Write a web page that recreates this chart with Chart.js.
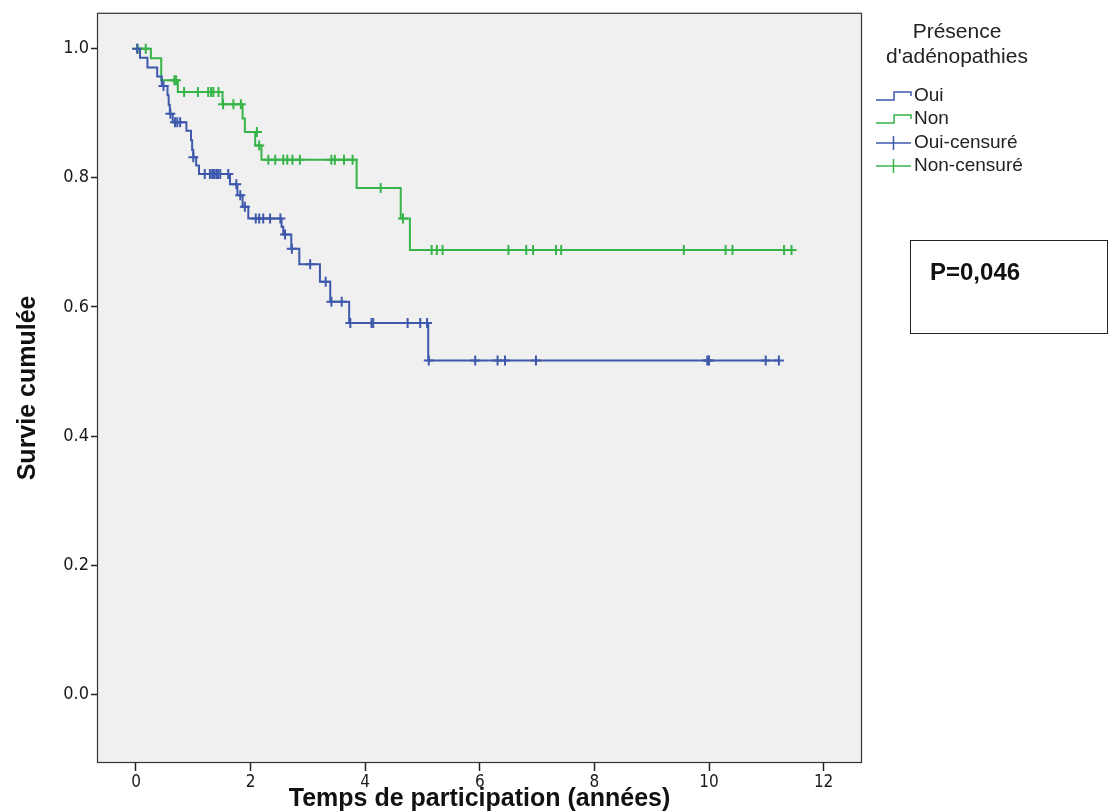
<!DOCTYPE html>
<html>
<head>
<meta charset="utf-8">
<script src="https://cdn.jsdelivr.net/npm/chart.js@4.4.1/dist/chart.umd.min.js"></script>
<style>
  body { margin: 0; background: #fff; }
  #wrap { position: relative; width: 1112px; height: 812px; }
  #kmChart { position: absolute; left: 0; top: 0; }
  .legend { position: absolute; left: 866px; top: 18px; width: 190px; font-family: 'Liberation Sans', Arial, sans-serif; color: #222; }
  .legend .title { text-align: center; font-size: 21px; line-height: 25px; margin-left: -8px; }
  .legend .item { position: absolute; left: 10px; height: 23px; font-size: 19px; line-height: 23px; white-space: nowrap; }
  .legend .item svg { vertical-align: middle; margin-right: 2px; }
  .pbox { position: absolute; left: 910px; top: 240px; width: 198px; height: 94px; border: 1px solid #222; box-sizing: border-box;
          font-family: 'Liberation Sans', Arial, sans-serif; font-weight: bold; font-size: 24px; color: #111; }
  .pbox span { position: absolute; left: 19px; top: 17px; }
</style>
</head>
<body>
<div id="wrap">
  <canvas id="kmChart" width="1112" height="812"></canvas>
  <div class="legend">
    <div class="title">Présence<br>d'adénopathies</div>
  </div>
  <div class="pbox"><span>P=0,046</span></div>
</div>
<script>
// Oui (avec adénopathies): event times and survival after each step
const ouiTimes = [0, 0.07, 0.20, 0.37, 0.45, 0.55, 0.57, 0.59, 0.64, 0.88, 0.96, 0.98, 1.00, 1.05, 1.10,
                  1.64, 1.77, 1.86, 1.96, 2.54, 2.57, 2.71, 2.85, 3.21, 3.39, 3.72, 5.10, 11.22];
const ouiSurv  = [1.0, 0.986, 0.971, 0.957, 0.942, 0.928, 0.913, 0.899, 0.886, 0.873, 0.858, 0.843, 0.832, 0.819, 0.806,
                  0.790, 0.773, 0.755, 0.737, 0.724, 0.712, 0.690, 0.666, 0.639, 0.608, 0.575, 0.517, 0.517];

// Oui censored observations
const ouiCensT = [0.02, 0.48, 0.60, 0.68, 0.72, 0.77, 1.00, 1.20, 1.29, 1.33, 1.36, 1.40, 1.43, 1.47, 1.61,
                  1.75, 1.82, 1.90, 2.09, 2.15, 2.22, 2.34, 2.52, 2.60, 2.72, 3.04, 3.31, 3.41, 3.59,
                  3.74, 4.11, 4.14, 4.74, 4.96, 5.08, 5.11, 5.92, 6.31, 6.44, 6.98, 9.97, 10.00, 10.99, 11.22];
const ouiCensS = [1.0, 0.942, 0.899, 0.886, 0.886, 0.886, 0.832, 0.806, 0.806, 0.806, 0.806, 0.806, 0.806, 0.806, 0.806,
                  0.790, 0.773, 0.755, 0.737, 0.737, 0.737, 0.737, 0.737, 0.712, 0.690, 0.666, 0.639, 0.608, 0.608,
                  0.575, 0.575, 0.575, 0.575, 0.575, 0.575, 0.517, 0.517, 0.517, 0.517, 0.517, 0.517, 0.517, 0.517, 0.517];

// Non (sans adénopathies)
const nonTimes = [0, 0.26, 0.44, 0.73, 1.51, 1.86, 1.90, 2.08, 2.19, 3.85, 4.62, 4.78, 11.44];
const nonSurv  = [1.0, 0.985, 0.951, 0.933, 0.914, 0.892, 0.871, 0.850, 0.828, 0.784, 0.737, 0.688, 0.688];

const nonCensT = [0.03, 0.17, 0.67, 0.70, 0.84, 1.08, 1.26, 1.31, 1.35, 1.44, 1.52, 1.70, 1.83, 2.11, 2.15,
                  2.31, 2.43, 2.57, 2.64, 2.73, 2.86, 3.41, 3.47, 3.63, 3.78, 4.27, 4.66,
                  5.16, 5.25, 5.35, 6.50, 6.81, 6.93, 7.33, 7.42, 9.56, 10.29, 10.41, 11.31, 11.44];
const nonCensS = [1.0, 1.0, 0.951, 0.951, 0.933, 0.933, 0.933, 0.933, 0.933, 0.933, 0.914, 0.914, 0.914, 0.871, 0.850,
                  0.828, 0.828, 0.828, 0.828, 0.828, 0.828, 0.828, 0.828, 0.828, 0.828, 0.784, 0.737,
                  0.688, 0.688, 0.688, 0.688, 0.688, 0.688, 0.688, 0.688, 0.688, 0.688, 0.688, 0.688, 0.688];

const xTicks = [0, 2, 4, 6, 8, 10, 12];
const yTicks = [0, 0.2, 0.4, 0.6, 0.8, 1.0];

const legendLabels = ['Oui', 'Non', 'Oui-censuré', 'Non-censuré'];

const BLUE = '#3e58ac';
const GREEN = '#36b448';

const toPoints = (xs, ys) => xs.map((x, i) => ({ x: x, y: ys[i] }));

// grey plot background + frame
const plotFrame = {
    id: 'plotFrame',
    beforeDatasetsDraw(chart) {
        const { ctx, chartArea: a } = chart;
        ctx.save();
        ctx.fillStyle = '#f0f0f0';
        ctx.fillRect(a.left, a.top, a.right - a.left, a.bottom - a.top);
        ctx.restore();
    },
    afterDraw(chart) {
        const { ctx, chartArea: a } = chart;
        ctx.save();
        ctx.strokeStyle = '#333';
        ctx.lineWidth = 1.2;
        ctx.strokeRect(a.left + 0.5, a.top + 0.5, a.right - a.left - 1, a.bottom - a.top - 1);
        ctx.restore();
    }
};

const narrow = "'Liberation Sans Narrow', 'DejaVu Sans Condensed', 'Liberation Sans', sans-serif";
const sans = "'Liberation Sans', Arial, sans-serif";

const ctx = document.getElementById('kmChart').getContext('2d');
const chart = new Chart(ctx, {
    type: 'scatter',
    data: {
        datasets: [
            {
                label: legendLabels[0],
                data: toPoints(ouiTimes, ouiSurv),
                showLine: true,
                stepped: 'before',
                borderColor: BLUE,
                borderWidth: 2,
                pointRadius: 0
            },
            {
                label: legendLabels[1],
                data: toPoints(nonTimes, nonSurv),
                showLine: true,
                stepped: 'before',
                borderColor: GREEN,
                borderWidth: 2,
                pointRadius: 0
            },
            {
                label: legendLabels[2],
                data: toPoints(ouiCensT, ouiCensS),
                showLine: false,
                pointStyle: 'cross',
                pointRadius: 5,
                borderColor: BLUE,
                borderWidth: 2
            },
            {
                label: legendLabels[3],
                data: toPoints(nonCensT, nonCensS),
                showLine: false,
                pointStyle: 'cross',
                pointRadius: 5,
                borderColor: GREEN,
                borderWidth: 2
            }
        ]
    },
    options: {
        responsive: false,
        animation: false,
        layout: { padding: { left: 0, right: 250, top: 10, bottom: 0 } },
        plugins: { legend: { display: false }, tooltip: { enabled: false } },
        scales: {
            x: {
                type: 'linear',
                min: -0.6806,
                max: 12.67,
                afterBuildTicks: (scale) => { scale.ticks = xTicks.map(v => ({ value: v })); },
                afterFit: (scale) => { scale.height = 49; },
                grid: { drawOnChartArea: false, drawTicks: true, tickLength: 8, color: '#222', tickWidth: 1.5 },
                border: { display: false },
                ticks: { color: '#1a1a1a', padding: 1, font: { family: narrow, size: 17 }, maxRotation: 0 },
                title: {
                    display: true,
                    text: 'Temps de participation (années)',
                    color: '#111',
                    font: { family: sans, size: 25, weight: 'bold', lineHeight: 1 },
                    padding: { top: 0, bottom: 0 }
                }
            },
            y: {
                type: 'linear',
                min: -0.10648,
                max: 1.05556,
                afterBuildTicks: (scale) => { scale.ticks = yTicks.map(v => ({ value: v })); },
                afterFit: (scale) => { scale.width = 97; },
                grid: { drawOnChartArea: false, drawTicks: true, tickLength: 6, color: '#222', tickWidth: 1.5 },
                border: { display: false },
                ticks: {
                    color: '#1a1a1a', padding: 2, font: { family: narrow, size: 18 },
                    callback: (v) => v.toFixed(1)
                },
                title: {
                    display: true,
                    text: 'Survie cumulée',
                    color: '#111',
                    font: { family: sans, size: 25, weight: 'bold', lineHeight: 1 },
                    padding: { top: 16, bottom: 0 }
                }
            }
        }
    },
    plugins: [plotFrame]
});

// legend built as html next to the chart (SPSS style icons)
const legendEl = document.querySelector('.legend');
const legendColors = [BLUE, GREEN, BLUE, GREEN];
const legendTops = [65, 88, 112, 135];
legendLabels.forEach((lab, i) => {
    const item = document.createElement('div');
    item.className = 'item';
    item.style.top = legendTops[i] + 'px';
    const icon = i < 2
        ? '<polyline points="0,11 18,11 18,3 35,3 35,7" fill="none" stroke="' + legendColors[i] + '" stroke-width="1.5"/>'
        : '<line x1="0" y1="7" x2="35" y2="7" stroke="' + legendColors[i] + '" stroke-width="1.5"/>' +
          '<line x1="17.5" y1="0" x2="17.5" y2="14" stroke="' + legendColors[i] + '" stroke-width="1.5"/>';
    item.innerHTML = '<svg width="36" height="14">' + icon + '</svg>' + lab;
    legendEl.appendChild(item);
});
</script>
</body>
</html>
